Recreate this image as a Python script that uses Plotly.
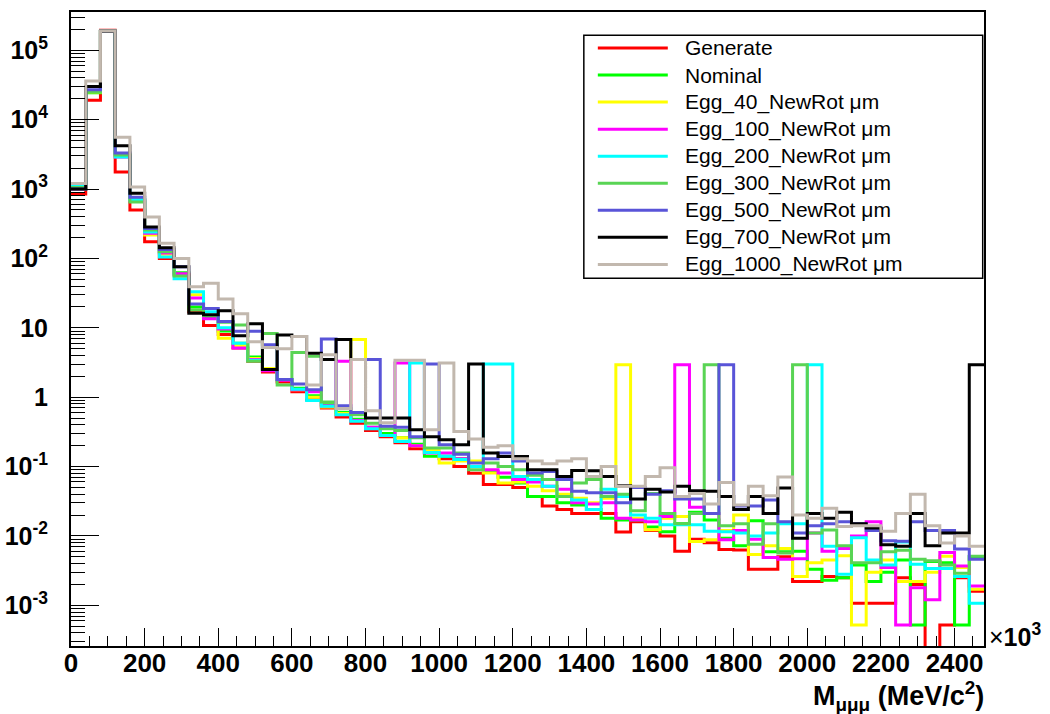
import numpy as np
import plotly.graph_objects as go

# ---------------- data ----------------
BIN_WIDTH = 40          # x10^3 MeV/c^2
N_BINS = 62
edges = [BIN_WIDTH * i for i in range(N_BINS + 1)]

series_names = ["Generate", "Nominal", "Egg_40_NewRot \u03bcm", "Egg_100_NewRot \u03bcm",
                "Egg_200_NewRot \u03bcm", "Egg_300_NewRot \u03bcm", "Egg_500_NewRot \u03bcm",
                "Egg_700_NewRot \u03bcm", "Egg_1000_NewRot \u03bcm"]
series_colors = ["#ff0000", "#00ff00", "#ffff00", "#ff00ff", "#00ffff",
                 "#59d454", "#5954d8", "#000000", "#c2b8ae"]

generate = [850, 19000, 195000, 1760, 500, 174, 100, 58,
            17, 10.8, 8.0, 5.1, 3.3, 2.3, 1.65, 1.2, 0.92, 0.70, 0.52, 0.42, 0.33, 0.27, 0.22, 0.18,
            0.16, 0.13, 0.10, 0.08, 0.055, 0.055, 0.05, 0.037, 0.027, 0.024, 0.021, 0.021, 0.021, 0.0114, 0.016,
            0.012, 0.010, 0.006, 0.009, 0.008, 0.0064, 0.0063, 0.0033, 0.0033, 0.005, 0.0022, 0.0022,
            0.0026, 0.0025, 0.00107, 0.00107, 0.00107, 0.0025, 0.002, 0.0, 0.00052, 0.0025, 0.0016]
nominal = [1000, 24500, 188000, 3100, 700, 240, 125, 62,
           20, 14, 9, 6, 3.8, 2.5, 1.8, 1.35, 1.05, 0.78, 0.6, 0.48, 0.37, 0.3, 0.26, 0.21,
           0.141, 0.141, 0.13, 0.10, 0.085, 0.07, 0.058, 0.037, 0.037, 0.03, 0.028, 0.024, 0.018, 0.017, 0.017,
           0.0135, 0.0115, 0.015, 0.022, 0.017, 0.0093, 0.0072, 0.0165, 0.0059, 0.0059, 0.006, 0.0033,
           0.0023, 0.0025, 0.0038, 0.0022, 0.0030, 0.0045, 0.00052, 0.0043, 0.0041, 0.00052, 0.005]
egg_40 = [1000, 25000, 188000, 3000, 690, 218, 115, 58,
          30, 15, 7.1, 5.5, 3.6, 2.6, 1.8, 1.28, 1.0, 0.72, 0.58, 6.8, 0.36, 0.28, 0.26, 0.2,
          0.17, 0.113, 0.12, 0.12, 0.081, 0.058, 0.06, 0.052, 0.045, 0.04, 0.035, 0.030, 0.035, 2.93, 0.018,
          0.0123, 0.018, 0.019, 0.0083, 0.0088, 0.012, 0.020, 0.0054, 0.0072, 0.0066, 0.0026, 0.0041,
          0.0045, 0.0052, 0.00052, 0.0030, 0.0045, 0.0022, 0.0022, 0.003, 0.0051, 0.0035, 0.0017]
egg_100 = [1000, 26000, 188000, 2900, 680, 230, 120, 60,
           27, 13.5, 9.6, 5.1, 3.5, 2.4, 1.76, 1.28, 1.2, 0.75, 3.3, 0.46, 0.37, 0.28, 3.1, 0.2,
           0.157, 0.157, 0.13, 0.10, 0.09, 0.081, 0.065, 0.06, 0.052, 0.047, 0.030, 0.029, 0.03, 0.018, 0.017,
           0.016, 0.019, 2.93, 0.026, 0.021, 0.0088, 0.012, 0.009, 0.0049, 0.0046, 0.0047, 0.011,
           0.006, 0.0066, 0.01, 0.016, 0.0035, 0.00052, 0.0018, 0.0012, 0.0058, 0.0037, 0.0019]
egg_200 = [1150, 26000, 188000, 2900, 700, 240, 105, 51,
           33, 17, 10, 6, 3.4, 2.5, 1.8, 1.3, 0.9, 0.74, 0.56, 0.45, 0.35, 0.28, 0.23, 3.1,
           0.16, 0.141, 0.126, 0.10, 3.0, 3.0, 0.072, 0.065, 0.052, 0.037, 0.033, 0.024, 0.047, 0.037, 0.020,
           0.018, 0.0145, 0.0145, 0.0145, 0.0117, 0.0115, 0.011, 0.010, 0.011, 0.015, 0.015, 2.93,
           0.0071, 0.0028, 0.0094, 0.0045, 0.0038, 0.0082, 0.0039, 0.0034, 0.0034, 0.0026, 0.00107]
egg_300 = [1050, 25000, 188000, 3100, 650, 258, 125, 56,
           18, 15, 12, 11, 3.3, 8.3, 1.5, 4.4, 3.9, 0.85, 0.68, 0.56, 0.42, 0.35, 0.33, 0.26,
           0.185, 0.185, 0.157, 0.09, 0.113, 0.10, 0.09, 0.075, 0.065, 0.037, 0.058, 0.065, 0.037, 0.040, 0.023,
           0.041, 0.021, 0.015, 0.021, 2.93, 0.014, 0.015, 0.0076, 0.015, 0.0057, 2.93, 0.011,
           0.0122, 0.0072, 0.0041, 0.0041, 0.0059, 0.0062, 0.0046, 0.0044, 0.0038, 0.0029, 0.0051]
egg_500 = [1000, 27000, 188000, 3300, 760, 270, 135, 76,
           22, 19, 12.3, 8.9, 8.9, 5.7, 1.8, 1.55, 1.28, 6.9, 0.75, 0.6, 3.5, 0.38, 0.37, 0.27,
           3.0, 0.207, 0.15, 0.113, 0.13, 0.157, 0.12, 0.081, 0.085, 0.065, 0.044, 0.042, 0.042, 0.030, 0.05,
           0.040, 0.045, 0.034, 0.034, 0.021, 2.93, 0.027, 0.027, 0.033, 0.016, 0.011, 0.014,
           0.015, 0.016, 0.015, 0.012, 0.0085, 0.0084, 0.016, 0.012, 0.012, 0.0065, 0.0046]
egg_700 = [1000, 30000, 188000, 4200, 870, 285, 142, 76,
           16.2, 15.4, 17.6, 7.7, 11.4, 2.5, 7.9, 7.5, 4.3, 3.5, 6.8, 3.5, 0.5, 0.5, 0.5, 0.34,
           0.27, 0.244, 0.207, 3.0, 0.157, 0.14, 0.14, 0.09, 0.09, 0.072, 0.088, 0.087, 0.072, 0.053, 0.034,
           0.047, 0.043, 0.052, 0.045, 0.044, 0.037, 0.024, 0.037, 0.021, 0.049, 0.0093, 0.021,
           0.018, 0.022, 0.015, 0.013, 0.0075, 0.0071, 0.021, 0.0072, 0.011, 0.011, 2.93]
egg_1000 = [1200, 36000, 190000, 5600, 1070, 395, 165, 100,
            39, 44, 26, 16, 6.3, 5.2, 5.0, 7.5, 1.5, 4.1, 0.69, 3.5, 0.64, 0.43, 3.4, 3.4,
            0.34, 3.1, 0.32, 0.25, 0.19, 0.20, 0.13, 0.12, 0.11, 0.12, 0.13, 0.072, 0.10, 0.052, 0.052,
            0.072, 0.096, 0.037, 0.041, 0.029, 0.059, 0.028, 0.052, 0.038, 0.071, 0.020, 0.018,
            0.025, 0.0137, 0.014, 0.014, 0.0117, 0.021, 0.040, 0.014, 0.0079, 0.010, 0.0071]

series_values = [generate, nominal, egg_40, egg_100, egg_200, egg_300, egg_500, egg_700, egg_1000]

y_tick_vals = [1e-3, 1e-2, 1e-1, 1, 10, 1e2, 1e3, 1e4, 1e5]
y_tick_text = ["10<sup>-3</sup>", "10<sup>-2</sup>", "10<sup>-1</sup>", "1", "10",
               "10<sup>2</sup>", "10<sup>3</sup>", "10<sup>4</sup>", "10<sup>5</sup>"]

# ---------------- geometry (pixels) ----------------
W, H = 1050, 714
PL, PR, PT, PB = 71, 984.3, 11.7, 645.7
FONT = "Liberation Sans, Arial, Helvetica, sans-serif"
EMPTY = 1e-9   # empty bins drop to the bottom of the log frame

fig = go.Figure()
for name, color, vals in zip(series_names, series_colors, series_values):
    y = [v if v > 0 else EMPTY for v in vals]
    y = y + [y[-1]]
    fig.add_trace(go.Scatter(x=edges, y=y, mode="lines", name=name,
                             line=dict(color=color, width=3, shape="hv"),
                             showlegend=False, hoverinfo="skip"))

minor_y = [k * 10.0 ** e for e in range(-4, 6) for k in range(2, 10)]

fig.update_xaxes(range=[0, edges[-1]], showgrid=False, zeroline=False, automargin=False,
                 showline=True, linecolor="black", linewidth=2, mirror=True,
                 ticks="inside", ticklen=18, tickwidth=1, tickcolor="black",
                 dtick=200, tick0=0,
                 minor=dict(ticks="inside", ticklen=10, dtick=50, tickcolor="black", tickwidth=1),
                 tickfont=dict(family=FONT, size=26, color="black", weight="bold"),
                 ticklabelstandoff=-7)
fig.update_yaxes(type="log", range=[-3.586, 5.552], showgrid=False, zeroline=False, automargin=False,
                 showline=True, linecolor="black", linewidth=2, mirror=True,
                 ticks="inside", ticklen=28, tickwidth=1, tickcolor="black",
                 tickmode="array", tickvals=y_tick_vals, ticktext=y_tick_text,
                 minor=dict(ticks="inside", ticklen=14, tickvals=minor_y, tickcolor="black", tickwidth=1),
                 tickfont=dict(family=FONT, size=25, color="black", weight="bold"),
                 ticklabelstandoff=16)

pw, ph = PR - PL, PB - PT
def px_x(x):
    return (x - PL) / pw
def px_y(y):
    return (PB - y) / ph

shapes = []
annotations = []
# legend box
shapes.append(dict(type="rect", xref="paper", yref="paper",
                   x0=px_x(584), x1=px_x(983), y0=px_y(278), y1=px_y(35),
                   line=dict(color="black", width=1.5), fillcolor="white", layer="above"))
for i, (name, color) in enumerate(zip(series_names, series_colors)):
    yc = 47.7 + 27.05 * i
    shapes.append(dict(type="line", xref="paper", yref="paper",
                       x0=px_x(598), x1=px_x(668), y0=px_y(yc), y1=px_y(yc),
                       line=dict(color=color, width=3), layer="above"))
    annotations.append(dict(xref="paper", yref="paper", x=px_x(683), y=px_y(yc),
                            text=name, showarrow=False, xanchor="left", yanchor="middle",
                            font=dict(family=FONT, size=21, color="black")))

# axis title and multiplier
annotations.append(dict(xref="paper", yref="paper", x=px_x(986), y=px_y(696),
                        text="<b>M<sub>\u03bc\u03bc\u03bc</sub> (MeV/c<sup>2</sup>)</b>",
                        showarrow=False, xanchor="right", yanchor="middle",
                        font=dict(family=FONT, size=27, color="black")))
annotations.append(dict(xref="paper", yref="paper", x=px_x(987), y=px_y(635),
                        text="\u00d7<b>10<sup>3</sup></b>",
                        showarrow=False, xanchor="left", yanchor="middle",
                        font=dict(family=FONT, size=25, color="black")))

fig.update_layout(width=W, height=H, autosize=False,
                  margin=dict(l=PL, r=W - PR, t=PT, b=H - PB, pad=0),
                  paper_bgcolor="white", plot_bgcolor="white",
                  shapes=shapes, annotations=annotations, showlegend=False)

fig.write_html("out.html", config={"displayModeBar": False},
               post_script="document.body.style.margin='0';document.body.style.overflow='hidden';")
